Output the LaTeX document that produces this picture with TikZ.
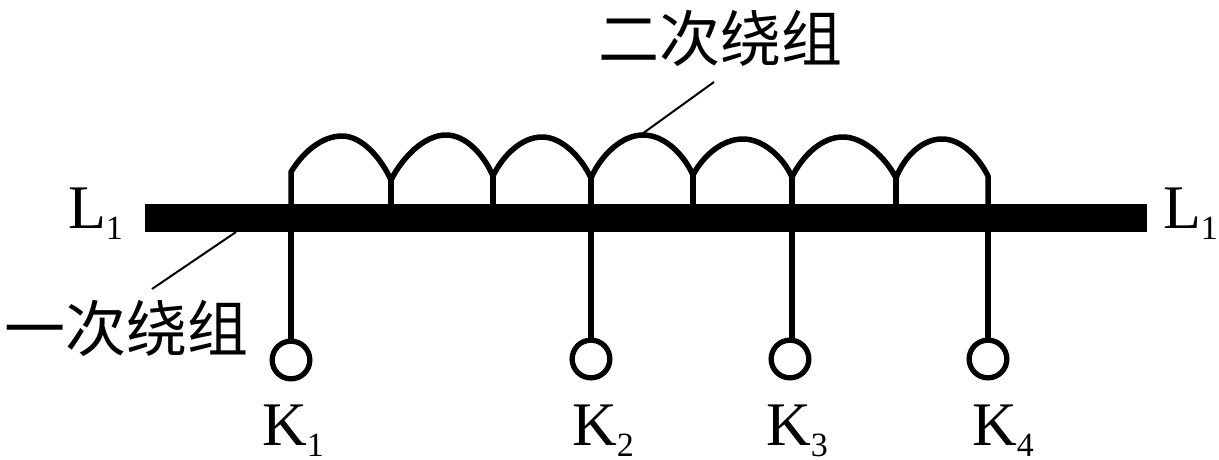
\documentclass[tikz,border=0pt]{standalone}
\usepackage{fontspec}
\setmainfont{Liberation Serif}
\newfontfamily\cjk{Noto Sans CJK SC}
\tikzset{
 wire/.style={line width=5.5pt,line join=round},
 leader/.style={line width=2pt},
 term/.style={circle,draw,line width=5.3pt,fill=white,minimum size=37.7pt,inner sep=0pt},
 lab/.style={font=\fontsize{62pt}{62pt}\selectfont,inner sep=0pt,anchor=base},
 cn/.style={font=\cjk\fontsize{61pt}{61pt}\selectfont,inner sep=0pt}
}
\newcommand{\sbs}[1]{{\fontsize{34pt}{34pt}\selectfont\raisebox{-11pt}{#1}}}
\begin{document}
\begin{tikzpicture}[x=1pt,y=-1pt]
\useasboundingbox (0,0) rectangle (1219,460);
\fill[white] (0,0) rectangle (1219,460);
\node[cn] (two) at (720,38) {二次绕组};
\node[cn] (one) at (127,328) {一次绕组};
\coordinate (la) at (714,82); \coordinate (lb) at (642,134);
\coordinate (lc) at (236,232); \coordinate (ld) at (152,289);
\draw[leader] (la) -- (lb);
\draw[leader] (lc) -- (ld);
\draw[wire] (291,205) -- (291,172) .. controls (303,152) and (322,136) .. (342,136) .. controls (362,136) and (381,158) .. (391,180)
 .. controls (402,158) and (424,135) .. (446,135) .. controls (466,135) and (484,155) .. (493,176)
 .. controls (503,155) and (522,137) .. (542,137) .. controls (562,137) and (581,157) .. (591,178)
 .. controls (601,155) and (622,135) .. (643,135) .. controls (665,135) and (684,155) .. (693,175)
 .. controls (703,156) and (722,139) .. (743,139) .. controls (763,139) and (783,157) .. (792,177)
 .. controls (803,155) and (822,137) .. (843,137) .. controls (864,137) and (886,158) .. (896,178)
 .. controls (905,155) and (923,139) .. (942,139) .. controls (962,139) and (979,158) .. (988,176) -- (988,205);
\foreach \x/\y in {391/180,493/176,591/178,693/175,792/177,896/178}{\draw[wire] (\x,\y) -- (\x,205);}
\node[fill=black,minimum width=1002pt,minimum height=28pt,inner sep=0pt] (core) at (646,218) {};
\foreach \n/\x/\y/\s in {a/291/360/291,b/591/359/591,c/790/359/792,d/988/359/988}{
 \coordinate (s\n) at (\s,231);
 \coordinate (e\n) at (\s,\y);
 \draw[wire] (s\n) -- (e\n);
 \node[term] (\n) at (\x,\y) {};
}
\node[lab] (l1) at (95.5,228) {L\sbs{1}};
\node[lab] (l2) at (1190.5,228) {L\sbs{1}};
\node[lab] (k1) at (293,445) {K\sbs{1}};
\node[lab] (k2) at (603,445) {K\sbs{2}};
\node[lab] (k3) at (797,445) {K\sbs{3}};
\node[lab] (k4) at (1003,445) {K\sbs{4}};
\end{tikzpicture}
\end{document}
